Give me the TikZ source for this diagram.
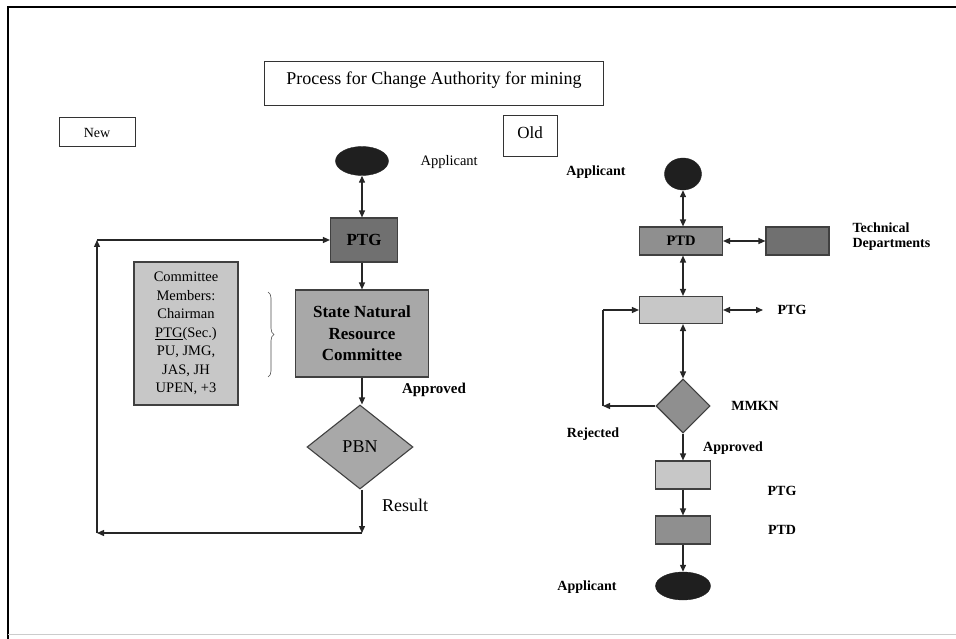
\documentclass[tikz,border=0pt]{standalone}
\usepackage{fontspec}
\setmainfont{Liberation Serif}
\usetikzlibrary{arrows.meta,shapes.geometric,decorations.pathreplacing}

\definecolor{edge}{gray}{0.25}
\definecolor{blob}{gray}{0.12}
\definecolor{dark}{gray}{0.44}
\definecolor{mid}{gray}{0.56}
\definecolor{soft}{gray}{0.66}
\definecolor{pale}{gray}{0.78}

\begin{document}
\begin{tikzpicture}[x=1pt,y=-1pt,>={Triangle[length=7pt,width=6pt]},
  box/.style={draw=edge,line width=1.1pt,inner sep=0pt},
  frame/.style={draw=black!80,line width=1pt,inner sep=0pt},
  blob/.style={ellipse,fill=blob,draw=blob,inner sep=0pt},
  choice/.style={diamond,draw=edge,line width=1.1pt,inner sep=0pt},
  lbl/.style={font=\fontsize{14}{15}\selectfont\bfseries},
  flow/.style={line width=1.3pt,draw=black!85}]
\useasboundingbox (0,0) rectangle (956,639);
\draw[line width=2.4pt] (8,639) -- (8,7) -- (956,7);
\draw[black!20,line width=1pt] (8,634) -- (956,634);

% headings
\node[frame,minimum width=339,minimum height=44,text depth=12pt,
  font=\fontsize{18}{20}\selectfont] (title) at (434,84) {Process for Change Authority for mining};
\node[frame,minimum width=76,minimum height=29,
  font=\fontsize{14}{16}\selectfont] (new) at (97,132.5) {New};
\node[frame,minimum width=54,minimum height=41,text depth=8pt,
  font=\fontsize{17}{19}\selectfont] (old) at (530,136.5) {Old};

% new process
\node[blob,minimum width=53,minimum height=29] (app1) at (362,161) {};
\node[anchor=west,font=\fontsize{14.5}{16}\selectfont] (lapp1) at (417,162) {Applicant};
\node[box,fill=dark,minimum width=67,minimum height=44,
  font=\fontsize{17}{19}\selectfont\bfseries] (ptg1) at (364,240) {PTG};
\node[box,fill=soft,minimum width=133,minimum height=87,align=center,
  font=\fontsize{17}{21.5}\selectfont\bfseries] (snrc) at (362,333.5) {State Natural\\Resource\\Committee};
\node[box,fill=pale,minimum width=104,minimum height=143,align=center,
  font=\fontsize{14.5}{18.5}\selectfont] (comm) at (186,333.5)
  {Committee\\Members:\\Chairman\\\underline{PTG}(Sec.)\\PU, JMG,\\JAS, JH\\UPEN, +3};
\draw[decorate,decoration={brace,amplitude=6pt},line width=0.6pt,black!70] (268,292) -- (268,377);
\node[choice,fill=soft,minimum width=106,minimum height=84,
  font=\fontsize{18}{20}\selectfont] (pbn) at (360,447) {PBN};
\node[font=\fontsize{15}{17}\selectfont\bfseries] (lok1) at (434,390) {Approved};
\node[font=\fontsize{18}{20}\selectfont] (lres) at (405,505) {Result};
\coordinate (res) at (362,533);
\coordinate (back1) at (97,533);
\coordinate (back2) at (97,240);

\draw[flow,<->] (app1) -- (ptg1.north -| app1);
\draw[flow,->] (ptg1.south -| app1) -- (snrc);
\draw[flow,->] (snrc.south -| app1) -- (pbn.north -| app1);
\draw[flow,->] (pbn.south -| app1) -- (res);
\draw[flow,->] (res) -- (back1);
\draw[flow,->] (back1) -- (back2);
\draw[flow,->] (back2) -- (ptg1);

% old process
\node[blob,minimum width=37,minimum height=32] (app2) at (683,174) {};
\node[lbl] (lapp2) at (596,172) {Applicant};
\node[box,fill=mid,minimum width=83,minimum height=28] (ptd) at (681,241) {\fontsize{14.5}{16}\selectfont\bfseries PTD};
\node[box,fill=dark,minimum width=63,minimum height=28] (tech) at (797.5,241) {};
\node[lbl,anchor=west,align=left] (ltech) at (849,237) {Technical\\Departments};
\node[box,fill=pale,minimum width=83,minimum height=27] (rev) at (681,310) {};
\coordinate (ptgout) at (763,310);
\node[lbl] (lptg) at (792,310) {PTG};
\node[choice,fill=mid,minimum width=54,minimum height=54] (mmkn) at (683,406) {};
\node[lbl] (lmmkn) at (755,406) {MMKN};
\coordinate (rej1) at (603,406);
\coordinate (rej2) at (603,310);
\node[lbl] (lrej) at (593,434) {Rejected};
\node[lbl] (lok2) at (733,448) {Approved};
\node[box,fill=pale,minimum width=55,minimum height=28] (ptg2) at (683,475) {};
\node[lbl] (lptg2) at (782,491) {PTG};
\node[box,fill=mid,minimum width=55,minimum height=28] (ptd2) at (683,530) {};
\node[lbl] (lptd2) at (782,530) {PTD};
\node[blob,minimum width=55,minimum height=28] (app3) at (683,586) {};
\node[lbl] (lapp3) at (587,587) {Applicant};

\draw[flow,<->] (app2) -- (ptd.north -| app2);
\draw[flow,<->] (ptd) -- (tech);
\draw[flow,<->] (ptd.south -| app2) -- (rev.north -| app2);
\draw[flow,<->] (rev) -- (ptgout);
\draw[flow,<->] (rev.south -| app2) -- (mmkn);
\draw[flow,->] (mmkn) -- (rej1);
\draw[flow] (rej1) -- (rej2);
\draw[flow,->] (rej2) -- (rev);
\draw[flow,->] (mmkn) -- (ptg2);
\draw[flow,->] (ptg2) -- (ptd2);
\draw[flow,->] (ptd2) -- (app3);
\end{tikzpicture}
\end{document}
